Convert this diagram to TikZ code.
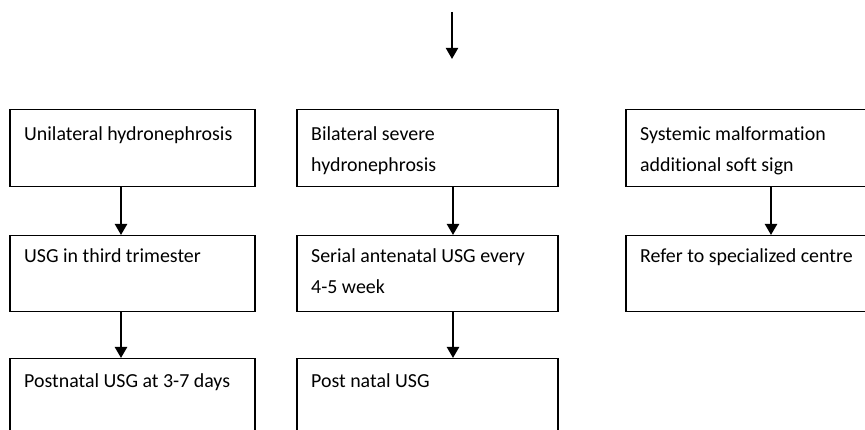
\documentclass[tikz,border=0pt]{standalone}
\usepackage{fontspec}
\setmainfont[Ligatures=NoCommon]{Carlito}
\usetikzlibrary{arrows.meta}
\tikzset{
  box/.style={draw=black, line width=1.5pt, rectangle, anchor=north west, inner sep=0pt, minimum height=77pt},
  txt/.style={anchor=base west, inner sep=0pt, font=\fontsize{19.9}{23}\selectfont},
  arr/.style={draw=black, line width=2.3pt, -{Triangle[width=12pt,length=11pt]}},
}
\begin{document}
\begin{tikzpicture}[x=1pt,y=1pt]
\useasboundingbox (0,0) rectangle (865,-430);
\clip (0,0) rectangle (865,-430);
% top arrow
\coordinate (ts) at (452,-12);
\coordinate (te) at (452,-59);
\draw[arr, line width=2pt] (ts) -- (te);
% boxes
\node[box, minimum width=245pt] (l1) at (9,-109) {};
\node[box, minimum width=245pt, minimum height=76pt] (l2) at (9,-235) {};
\node[box, minimum width=245pt, minimum height=90pt] (l3) at (9,-358) {};
\node[box, minimum width=261pt] (m1) at (296,-109) {};
\node[box, minimum width=261pt, minimum height=76pt] (m2) at (296,-235) {};
\node[box, minimum width=261pt, minimum height=90pt] (m3) at (296,-358) {};
\node[box, minimum width=260pt] (r1) at (625,-109) {};
\node[box, minimum width=260pt, minimum height=76pt] (r2) at (625,-235) {};
% texts
\node[txt] (tl1) at ([xshift=15pt,yshift=-32pt]l1.north west) {Unilateral hydronephrosis};
\node[txt] (tl2) at ([xshift=15pt,yshift=-28pt]l2.north west) {USG in third trimester};
\node[txt] (tl3) at ([xshift=15pt,yshift=-29pt]l3.north west) {Postnatal USG at 3-7 days};
\node[txt] (tm1a) at ([xshift=15pt,yshift=-32pt]m1.north west) {Bilateral severe};
\node[txt] (tm1b) at ([xshift=15pt,yshift=-63pt]m1.north west) {hydronephrosis};
\node[txt] (tm2a) at ([xshift=15pt,yshift=-28pt]m2.north west) {Serial antenatal USG every};
\node[txt] (tm2b) at ([xshift=15pt,yshift=-59pt]m2.north west) {4-5 week};
\node[txt] (tm3) at ([xshift=15pt,yshift=-29pt]m3.north west) {Post natal USG};
\node[txt] (tr1a) at ([xshift=15pt,yshift=-32pt]r1.north west) {Systemic malformation};
\node[txt] (tr1b) at ([xshift=15pt,yshift=-63pt]r1.north west) {additional soft sign};
\node[txt] (tr2) at ([xshift=15pt,yshift=-28pt]r2.north west) {Refer to specialized centre};
% arrows
\draw[arr] ([xshift=112pt]l1.south west) -- ([xshift=112pt]l2.north west);
\draw[arr] ([xshift=112pt]l2.south west) -- ([xshift=112pt]l3.north west);
\draw[arr] ([xshift=157pt]m1.south west) -- ([xshift=157pt]m2.north west);
\draw[arr] ([xshift=157pt]m2.south west) -- ([xshift=157pt]m3.north west);
\draw[arr] ([xshift=146pt]r1.south west) -- ([xshift=146pt]r2.north west);
\end{tikzpicture}
\end{document}
